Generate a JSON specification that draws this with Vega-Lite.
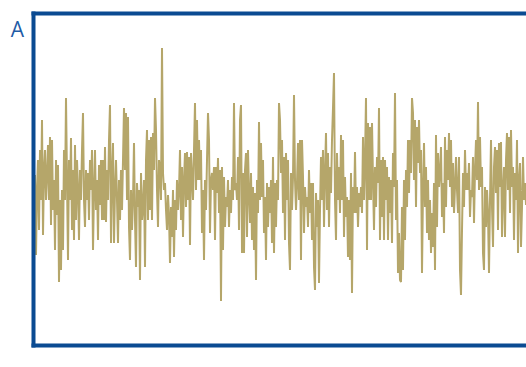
{
 "$schema": "https://vega.github.io/schema/vega-lite/v6.json",
 "width": 493,
 "height": 332,
 "autosize": {"type": "none"},
 "padding": {"left": 33, "top": 13, "right": 0, "bottom": 22},
 "background": "white",
 "config": {"view": {"stroke": null}},
 "data": {"values": [
{"t":0,"v":-5},{"t":1,"v":-70},{"t":2,"v":20},{"t":3,"v":-60},{"t":4,"v":5},{"t":5,"v":35},{"t":6,"v":-35},{"t":7,"v":45},{"t":8,"v":-5},{"t":9,"v":75},
{"t":10,"v":-40},{"t":11,"v":25},{"t":12,"v":45},{"t":13,"v":-5},{"t":14,"v":20},{"t":15,"v":50},{"t":16,"v":-5},{"t":17,"v":58},{"t":18,"v":-30},{"t":19,"v":55},
{"t":20,"v":-15},{"t":21,"v":15},{"t":22,"v":-55},{"t":23,"v":35},{"t":24,"v":-20},{"t":25,"v":30},{"t":26,"v":-87},{"t":27,"v":-5},{"t":28,"v":-75},{"t":29,"v":5},
{"t":30,"v":-55},{"t":31,"v":45},{"t":32,"v":-5},{"t":33,"v":97},{"t":34,"v":15},{"t":35,"v":-65},{"t":36,"v":35},{"t":37,"v":-5},{"t":38,"v":57},{"t":39,"v":-35},
{"t":40,"v":25},{"t":41,"v":-45},{"t":42,"v":50},{"t":43,"v":-25},{"t":44,"v":35},{"t":45,"v":5},{"t":46,"v":-45},{"t":47,"v":25},{"t":48,"v":-5},{"t":49,"v":45},
{"t":50,"v":82},{"t":51,"v":-5},{"t":52,"v":-32},{"t":53,"v":25},{"t":54,"v":-5},{"t":55,"v":22},{"t":56,"v":-25},{"t":57,"v":35},{"t":58,"v":5},{"t":59,"v":45},
{"t":60,"v":-55},{"t":61,"v":5},{"t":62,"v":45},{"t":63,"v":-15},{"t":64,"v":15},{"t":65,"v":-45},{"t":66,"v":30},{"t":67,"v":-10},{"t":68,"v":35},{"t":69,"v":-25},
{"t":70,"v":35},{"t":71,"v":-25},{"t":72,"v":48},{"t":73,"v":-27},{"t":74,"v":25},{"t":75,"v":-5},{"t":76,"v":55},{"t":77,"v":90},{"t":78,"v":-48},{"t":79,"v":20},
{"t":80,"v":52},{"t":81,"v":-48},{"t":82,"v":5},{"t":83,"v":35},{"t":84,"v":-5},{"t":85,"v":-48},{"t":86,"v":15},{"t":87,"v":-25},{"t":88,"v":25},{"t":89,"v":-15},
{"t":90,"v":35},{"t":91,"v":87},{"t":92,"v":25},{"t":93,"v":82},{"t":94,"v":-5},{"t":95,"v":78},{"t":96,"v":-32},{"t":97,"v":-65},{"t":98,"v":5},{"t":99,"v":-35},
{"t":100,"v":-5},{"t":101,"v":52},{"t":102,"v":-25},{"t":103,"v":-72},{"t":104,"v":12},{"t":105,"v":-12},{"t":106,"v":5},{"t":107,"v":-85},{"t":108,"v":22},{"t":109,"v":-25},
{"t":110,"v":-12},{"t":111,"v":15},{"t":112,"v":-72},{"t":113,"v":35},{"t":114,"v":65},{"t":115,"v":-25},{"t":116,"v":55},{"t":117,"v":-15},{"t":118,"v":58},{"t":119,"v":-25},
{"t":120,"v":62},{"t":121,"v":25},{"t":122,"v":97},{"t":123,"v":65},{"t":124,"v":5},{"t":125,"v":-32},{"t":126,"v":35},{"t":127,"v":25},{"t":128,"v":-5},{"t":129,"v":147},
{"t":130,"v":22},{"t":131,"v":5},{"t":132,"v":12},{"t":133,"v":-15},{"t":134,"v":-35},{"t":135,"v":0},{"t":136,"v":-20},{"t":137,"v":-68},{"t":138,"v":-12},{"t":139,"v":-42},
{"t":140,"v":5},{"t":141,"v":-62},{"t":142,"v":-5},{"t":143,"v":-35},{"t":144,"v":15},{"t":145,"v":-15},{"t":146,"v":5},{"t":147,"v":45},{"t":148,"v":-25},{"t":149,"v":28},
{"t":150,"v":-42},{"t":151,"v":15},{"t":152,"v":42},{"t":153,"v":-12},{"t":154,"v":43},{"t":155,"v":-5},{"t":156,"v":38},{"t":157,"v":-50},{"t":158,"v":42},{"t":159,"v":18},
{"t":160,"v":-5},{"t":161,"v":45},{"t":162,"v":92},{"t":163,"v":5},{"t":164,"v":75},{"t":165,"v":15},{"t":166,"v":55},{"t":167,"v":15},{"t":168,"v":45},{"t":169,"v":-38},
{"t":170,"v":5},{"t":171,"v":-65},{"t":172,"v":15},{"t":173,"v":-15},{"t":174,"v":35},{"t":175,"v":82},{"t":176,"v":55},{"t":177,"v":-38},{"t":178,"v":15},{"t":179,"v":22},
{"t":180,"v":5},{"t":181,"v":28},{"t":182,"v":-45},{"t":183,"v":28},{"t":184,"v":2},{"t":185,"v":37},{"t":186,"v":-18},{"t":187,"v":25},{"t":188,"v":-106},{"t":189,"v":28},
{"t":190,"v":-55},{"t":191,"v":18},{"t":192,"v":-32},{"t":193,"v":-2},{"t":194,"v":-12},{"t":195,"v":15},{"t":196,"v":-32},{"t":197,"v":5},{"t":198,"v":-18},{"t":199,"v":18},
{"t":200,"v":-5},{"t":201,"v":92},{"t":202,"v":5},{"t":203,"v":12},{"t":204,"v":-5},{"t":205,"v":38},{"t":206,"v":-35},{"t":207,"v":75},{"t":208,"v":90},{"t":209,"v":-58},
{"t":210,"v":22},{"t":211,"v":-58},{"t":212,"v":25},{"t":213,"v":42},{"t":214,"v":-42},{"t":215,"v":45},{"t":216,"v":2},{"t":217,"v":-28},{"t":218,"v":22},{"t":219,"v":-45},
{"t":220,"v":8},{"t":221,"v":-55},{"t":222,"v":2},{"t":223,"v":-85},{"t":224,"v":15},{"t":225,"v":-18},{"t":226,"v":73},{"t":227,"v":-5},{"t":228,"v":52},{"t":229,"v":-2},
{"t":230,"v":35},{"t":231,"v":-38},{"t":232,"v":-2},{"t":233,"v":-65},{"t":234,"v":12},{"t":235,"v":-32},{"t":236,"v":8},{"t":237,"v":-18},{"t":238,"v":15},{"t":239,"v":-48},
{"t":240,"v":38},{"t":241,"v":-58},{"t":242,"v":12},{"t":243,"v":-32},{"t":244,"v":15},{"t":245,"v":-5},{"t":246,"v":92},{"t":247,"v":75},{"t":248,"v":22},{"t":249,"v":55},
{"t":250,"v":-18},{"t":251,"v":38},{"t":252,"v":-45},{"t":253,"v":42},{"t":254,"v":-5},{"t":255,"v":35},{"t":256,"v":-48},{"t":257,"v":-75},{"t":258,"v":22},{"t":259,"v":-15},
{"t":260,"v":18},{"t":261,"v":100},{"t":262,"v":15},{"t":263,"v":-15},{"t":264,"v":12},{"t":265,"v":52},{"t":266,"v":-5},{"t":267,"v":55},{"t":268,"v":-65},{"t":269,"v":55},
{"t":270,"v":18},{"t":271,"v":-38},{"t":272,"v":8},{"t":273,"v":-12},{"t":274,"v":-2},{"t":275,"v":-32},{"t":276,"v":25},{"t":277,"v":-18},{"t":278,"v":12},{"t":279,"v":-45},
{"t":280,"v":12},{"t":281,"v":-72},{"t":282,"v":-95},{"t":283,"v":2},{"t":284,"v":-32},{"t":285,"v":-5},{"t":286,"v":-88},{"t":287,"v":-15},{"t":288,"v":38},{"t":289,"v":-5},
{"t":290,"v":45},{"t":291,"v":-32},{"t":292,"v":22},{"t":293,"v":62},{"t":294,"v":-15},{"t":295,"v":42},{"t":296,"v":-32},{"t":297,"v":28},{"t":298,"v":2},{"t":299,"v":55},
{"t":300,"v":87},{"t":301,"v":122},{"t":302,"v":-5},{"t":303,"v":-45},{"t":304,"v":42},{"t":305,"v":-5},{"t":306,"v":28},{"t":307,"v":-18},{"t":308,"v":60},{"t":309,"v":-5},
{"t":310,"v":55},{"t":311,"v":-42},{"t":312,"v":18},{"t":313,"v":-22},{"t":314,"v":-2},{"t":315,"v":-62},{"t":316,"v":-5},{"t":317,"v":-65},{"t":318,"v":22},{"t":319,"v":-98},
{"t":320,"v":8},{"t":321,"v":-18},{"t":322,"v":43},{"t":323,"v":-18},{"t":324,"v":8},{"t":325,"v":-32},{"t":326,"v":2},{"t":327,"v":-12},{"t":328,"v":8},{"t":329,"v":-18},
{"t":330,"v":58},{"t":331,"v":-5},{"t":332,"v":35},{"t":333,"v":97},{"t":334,"v":-55},{"t":335,"v":72},{"t":336,"v":-5},{"t":337,"v":68},{"t":338,"v":-5},{"t":339,"v":72},
{"t":340,"v":15},{"t":341,"v":-35},{"t":342,"v":28},{"t":343,"v":-12},{"t":344,"v":38},{"t":345,"v":12},{"t":346,"v":87},{"t":347,"v":-45},{"t":348,"v":35},{"t":349,"v":-22},
{"t":350,"v":38},{"t":351,"v":-45},{"t":352,"v":35},{"t":353,"v":-5},{"t":354,"v":28},{"t":355,"v":-45},{"t":356,"v":18},{"t":357,"v":-18},{"t":358,"v":15},{"t":359,"v":-48},
{"t":360,"v":42},{"t":361,"v":8},{"t":362,"v":102},{"t":363,"v":-25},{"t":364,"v":15},{"t":365,"v":-78},{"t":366,"v":-38},{"t":367,"v":-85},{"t":368,"v":-87},{"t":369,"v":-12},
{"t":370,"v":-75},{"t":371,"v":15},{"t":372,"v":-45},{"t":373,"v":25},{"t":374,"v":-12},{"t":375,"v":55},{"t":376,"v":2},{"t":377,"v":55},{"t":378,"v":22},{"t":379,"v":97},
{"t":380,"v":82},{"t":381,"v":15},{"t":382,"v":75},{"t":383,"v":-12},{"t":384,"v":68},{"t":385,"v":32},{"t":386,"v":75},{"t":387,"v":22},{"t":388,"v":45},{"t":389,"v":-78},
{"t":390,"v":5},{"t":391,"v":52},{"t":392,"v":-12},{"t":393,"v":28},{"t":394,"v":-38},{"t":395,"v":15},{"t":396,"v":-45},{"t":397,"v":-5},{"t":398,"v":-58},{"t":399,"v":-18},
{"t":400,"v":-52},{"t":401,"v":12},{"t":402,"v":-75},{"t":403,"v":60},{"t":404,"v":-32},{"t":405,"v":42},{"t":406,"v":8},{"t":407,"v":22},{"t":408,"v":48},{"t":409,"v":-22},
{"t":410,"v":12},{"t":411,"v":-38},{"t":412,"v":58},{"t":413,"v":-12},{"t":414,"v":45},{"t":415,"v":15},{"t":416,"v":62},{"t":417,"v":8},{"t":418,"v":55},{"t":419,"v":-12},
{"t":420,"v":32},{"t":421,"v":-18},{"t":422,"v":8},{"t":423,"v":38},{"t":424,"v":5},{"t":425,"v":-18},{"t":426,"v":38},{"t":427,"v":-75},{"t":428,"v":-100},{"t":429,"v":-35},
{"t":430,"v":22},{"t":431,"v":-12},{"t":432,"v":45},{"t":433,"v":5},{"t":434,"v":22},{"t":435,"v":5},{"t":436,"v":32},{"t":437,"v":-22},{"t":438,"v":5},{"t":439,"v":-2},
{"t":440,"v":38},{"t":441,"v":-28},{"t":442,"v":25},{"t":443,"v":55},{"t":444,"v":15},{"t":445,"v":93},{"t":446,"v":5},{"t":447,"v":58},{"t":448,"v":8},{"t":449,"v":28},
{"t":450,"v":-58},{"t":451,"v":-75},{"t":452,"v":8},{"t":453,"v":-32},{"t":454,"v":5},{"t":455,"v":-18},{"t":456,"v":-78},{"t":457,"v":-5},{"t":458,"v":55},{"t":459,"v":-12},
{"t":460,"v":-52},{"t":461,"v":28},{"t":462,"v":48},{"t":463,"v":2},{"t":464,"v":45},{"t":465,"v":-35},{"t":466,"v":52},{"t":467,"v":8},{"t":468,"v":53},{"t":469,"v":-42},
{"t":470,"v":5},{"t":471,"v":28},{"t":472,"v":-42},{"t":473,"v":35},{"t":474,"v":62},{"t":475,"v":5},{"t":476,"v":58},{"t":477,"v":-18},{"t":478,"v":65},{"t":479,"v":8},
{"t":480,"v":28},{"t":481,"v":-45},{"t":482,"v":22},{"t":483,"v":-5},{"t":484,"v":55},{"t":485,"v":-58},{"t":486,"v":15},{"t":487,"v":32},{"t":488,"v":-52},{"t":489,"v":-12},
{"t":490,"v":38},{"t":491,"v":-5},{"t":492,"v":12},{"t":493,"v":-10},{"t":494,"v":5}
 ]},
 "layer": [
  {
   "mark": {"type": "line", "color": "#b5a66a", "strokeWidth": 2, "clip": true},
   "encoding": {
    "x": {"field": "t", "type": "quantitative",
          "scale": {"domain": [0, 493], "nice": false, "zero": false},
          "axis": {"orient": "bottom", "title": null, "labels": false, "ticks": false, "grid": false,
                   "domain": true, "domainColor": "#0b4b92", "domainWidth": 4, "domainCap": "square", "zindex": 1}},
    "y": {"field": "v", "type": "quantitative",
          "scale": {"domain": [-150, 182], "nice": false, "zero": false},
          "axis": {"title": "A", "labels": false, "ticks": false, "grid": false,
                   "domain": true, "domainColor": "#0b4b92", "domainWidth": 4, "domainCap": "square", "zindex": 1,
                   "titleAngle": 0, "titleX": -16, "titleY": 23, "titleAlign": "center", "titleBaseline": "alphabetic",
                   "titleFont": "Open Sans", "titleFontSize": 21, "titleFontWeight": "normal", "titleColor": "#1f5ca6"}}
   }
  },
  {
   "mark": {"type": "line", "opacity": 0},
   "encoding": {
    "x": {"field": "t", "type": "quantitative",
          "axis": {"orient": "top", "title": null, "labels": false, "ticks": false, "grid": false,
                   "domain": true, "domainColor": "#0b4b92", "domainWidth": 4, "domainCap": "square", "zindex": 1}},
    "y": {"field": "v", "type": "quantitative", "axis": null}
   }
  }
 ],
 "resolve": {"axis": {"x": "independent", "y": "independent"}}
}
